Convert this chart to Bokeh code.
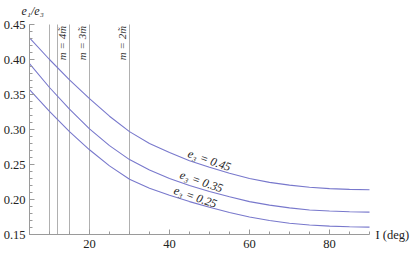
from bokeh.plotting import figure
from bokeh.models import Range1d, FixedTicker, CustomJSTickFormatter
from bokeh.core.properties import value
from bokeh.embed import file_html
from bokeh.resources import INLINE
import math

# ---- data ----
inclination = [5, 10, 15, 20, 25, 30, 35, 40, 45, 50, 55, 60, 65, 70, 75, 80, 85, 90]
ratio_e3_045 = [0.431, 0.400, 0.371, 0.344, 0.319, 0.297, 0.280, 0.267, 0.2555, 0.246,
                0.2375, 0.230, 0.2245, 0.2205, 0.2175, 0.2155, 0.2145, 0.214]
ratio_e3_035 = [0.394, 0.360, 0.329, 0.301, 0.277, 0.257, 0.242, 0.230, 0.220, 0.2115,
                0.204, 0.197, 0.192, 0.188, 0.185, 0.1835, 0.1825, 0.182]
ratio_e3_025 = [0.357, 0.326, 0.297, 0.271, 0.248, 0.229, 0.216, 0.206, 0.197, 0.189,
                0.1815, 0.175, 0.170, 0.166, 0.1635, 0.162, 0.161, 0.1605]

series_labels = ["e\u2083 = 0.45", "e\u2083 = 0.35", "e\u2083 = 0.25"]
series_label_x = [50.0, 48.0, 46.5]
series_label_y = [0.256, 0.2257, 0.2035]

resonance_I = [10, 12, 15, 20, 30]
resonance_label_I = [15, 20, 30]
resonance_labels = ["m = 4m\u0303", "m = 3m\u0303", "m = 2m\u0303"]

x_ticks = [20, 40, 60, 80]
y_ticks = [0.15, 0.20, 0.25, 0.30, 0.35, 0.40, 0.45]
x_lo, x_hi = 5, 90
y_lo, y_hi = 0.15, 0.45

CURVE = "#7878cc"
GRAY = "#9a9a9a"
SERIF = value("Liberation Serif")

W, H = 415, 255
PX_PER_DEG, PX_PER_UNIT = 4.0, 700.0
left_px, top_px = 29.0, 24.0          # where (5, 0.45) sits inside the canvas
x_start = x_lo - left_px / PX_PER_DEG
x_end = x_start + W / PX_PER_DEG
y_end = y_hi + top_px / PX_PER_UNIT
y_start = y_end - H / PX_PER_UNIT

p = figure(width=W, height=H, output_backend="svg", toolbar_location=None,
           x_range=Range1d(x_start, x_end), y_range=Range1d(y_start, y_end),
           min_border_left=0, min_border_top=0, min_border_right=0, min_border_bottom=0)
p.outline_line_color = None
p.xgrid.visible = False
p.ygrid.visible = False
p.background_fill_color = "white"
p.border_fill_color = "white"

# vertical resonance lines
p.segment(x0=resonance_I, y0=[y_lo] * len(resonance_I), x1=resonance_I,
          y1=[y_hi] * len(resonance_I), line_color="#b0b0b0", line_width=1)

p.text(x=resonance_label_I, y=[y_hi - 0.002] * 3, text=resonance_labels, angle=math.pi / 2,
       text_align="right", text_baseline="bottom", x_offset=-2,
       text_font=SERIF, text_font_style="italic", text_font_size="11px",
       text_color="#333333")

# curves
for ys in (ratio_e3_045, ratio_e3_035, ratio_e3_025):
    p.line(inclination, ys, line_color=CURVE, line_width=1.1)

p.text(x=series_label_x, y=series_label_y, text=series_labels, angle=-0.33,
       text_align="center", text_baseline="middle",
       text_font=SERIF, text_font_style="italic", text_font_size="12px",
       text_color="#222222")

# axes styling
for ax in (p.xaxis[0], p.yaxis[0]):
    ax.axis_line_color = GRAY
    ax.major_tick_line_color = GRAY
    ax.minor_tick_line_color = GRAY
    ax.major_tick_in = 5
    ax.major_tick_out = 0
    ax.minor_tick_in = 3
    ax.minor_tick_out = 0
    ax.major_label_text_font = "Liberation Serif"
    ax.major_label_text_font_size = "12.5px"
    ax.major_label_text_color = "#222222"

p.yaxis[0].major_label_standoff = 4
p.xaxis[0].major_label_standoff = 5
p.xaxis[0].fixed_location = y_lo
p.yaxis[0].fixed_location = x_lo
p.xaxis[0].bounds = (x_lo, x_hi)
p.yaxis[0].bounds = (y_lo, y_hi)
p.xaxis[0].ticker = FixedTicker(ticks=x_ticks, minor_ticks=list(range(5, 91, 5)))
p.yaxis[0].ticker = FixedTicker(ticks=y_ticks,
                                minor_ticks=[round(0.15 + 0.01 * i, 2) for i in range(31)])
p.yaxis[0].formatter = CustomJSTickFormatter(code="return tick.toFixed(2);")

# axis titles
p.text(x=[x_lo], y=[y_hi], text=["e\u2081/e\u2083"], x_offset=-8, y_offset=-7,
       text_font=SERIF, text_font_style="italic", text_font_size="12px",
       text_color="#222222", text_baseline="bottom", text_align="left")
p.text(x=[x_hi], y=[y_lo], text=["I (deg)"], x_offset=6,
       text_font=SERIF, text_font_size="12.5px",
       text_color="#222222", text_baseline="middle", text_align="left")

open("out.html", "w").write(file_html(p, INLINE))
